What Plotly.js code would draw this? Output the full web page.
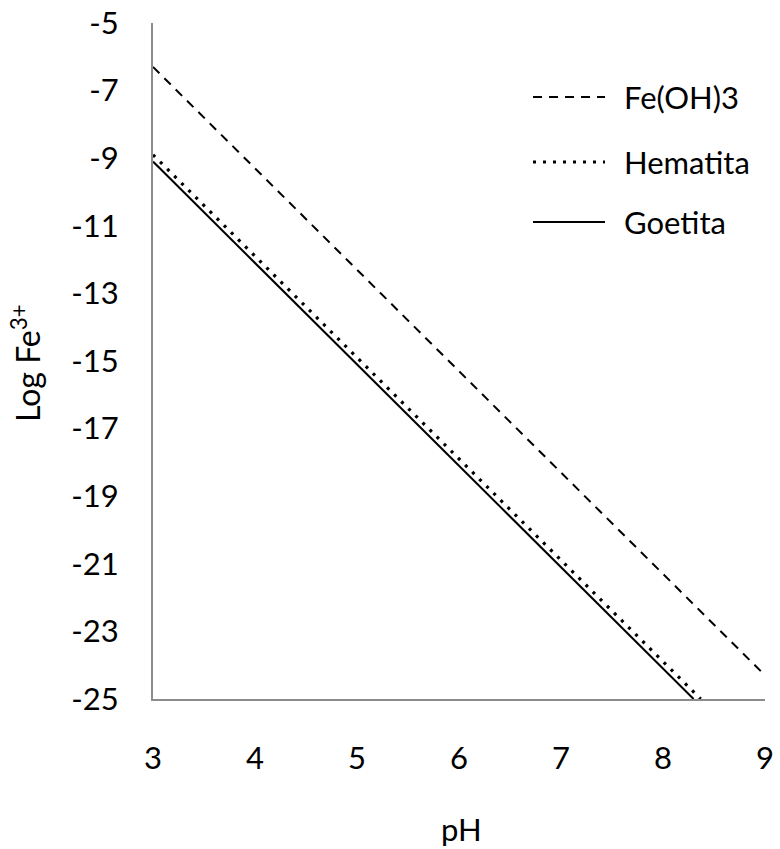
<!DOCTYPE html>
<html>
<head>
<meta charset="utf-8">
<script src="https://cdn.plot.ly/plotly-3.0.1.min.js"></script>
<style>html,body{margin:0;padding:0;background:#fff;}#chart{width:780px;height:849px;}</style>
</head>
<body>
<div id="chart"></div>
<script>
// Data
const seriesNames = ["Fe(OH)3", "Hematita", "Goetita"];
const fe_pH = [3, 9];
const fe_log = [-6.3, -24.3];
const hem_pH = [3, 8.37];
const hem_log = [-8.9, -25];
const goe_pH = [3, 8.3];
const goe_log = [-9.1, -25];
const xTicks = [3, 4, 5, 6, 7, 8, 9];
const yTicks = [-25, -23, -21, -19, -17, -15, -13, -11, -9, -7, -5];
const xTitle = "pH";
const yTitle = "Log Fe<sup>3+</sup>";

const FONT = "Lato, 'Open Sans', sans-serif";
const styles = [
  {color: "#000", width: 2, dash: "9px,7px"},
  {color: "#000", width: 3.2, dash: "3px,7px"},
  {color: "#000", width: 2, dash: "solid"}
];
const xs = [fe_pH, hem_pH, goe_pH];
const ys = [fe_log, hem_log, goe_log];

const traces = seriesNames.map((n, i) => ({
  x: xs[i], y: ys[i], name: n, type: "scatter", mode: "lines",
  line: styles[i], showlegend: false, hoverinfo: "skip"
}));

const L = 153, R = 15, T = 23, B = 150;
const W = 780 - L - R, H = 849 - T - B;
const shapes = [], annotations = [];
// custom legend (sample lines + labels) in paper coordinates
const legY = [97, 162, 222];
legY.forEach((py, i) => {
  const yp = 1 - (py - T) / H;
  shapes.push({type: "line", xref: "paper", yref: "paper",
    x0: (533 - L) / W, x1: (605 - L) / W, y0: yp, y1: yp,
    line: {color: "#000", width: styles[i].width, dash: styles[i].dash}});
  annotations.push({xref: "paper", yref: "paper", x: (622 - L) / W, y: yp,
    xanchor: "left", yanchor: "middle", showarrow: false, text: seriesNames[i],
    font: {family: FONT, size: 31, color: "#000"}});
});
// axis titles
annotations.push({xref: "paper", yref: "paper", x: (461 - L) / W, y: -(829 - (T + H)) / H,
  xanchor: "center", yanchor: "middle", showarrow: false, text: xTitle,
  font: {family: FONT, size: 31, color: "#000"}});
annotations.push({xref: "paper", yref: "paper", x: -(L - 26) / W, y: 1 - (363 - T) / H,
  xanchor: "center", yanchor: "middle", showarrow: false, text: yTitle, textangle: -90,
  font: {family: FONT, size: 32, color: "#000"}});

const layout = {
  width: 780, height: 849,
  margin: {l: L, r: R, t: T, b: B},
  paper_bgcolor: "#fff", plot_bgcolor: "#fff",
  font: {family: FONT, size: 31, color: "#000"},
  showlegend: false,
  xaxis: {
    range: [3, 9], tickvals: xTicks, ticktext: xTicks.map(String),
    showgrid: false, zeroline: false, showline: true, linecolor: "#8c8c8c", linewidth: 2,
    ticks: "outside", ticklen: 31, tickcolor: "rgba(0,0,0,0)",
    tickfont: {family: FONT, size: 31, color: "#000"},
    automargin: false
  },
  yaxis: {
    range: [-25, -5], tickvals: yTicks, ticktext: yTicks.map(String),
    showgrid: false, zeroline: false, showline: true, linecolor: "#8c8c8c", linewidth: 2,
    ticks: "outside", ticklen: 26, tickcolor: "rgba(0,0,0,0)",
    tickfont: {family: FONT, size: 31, color: "#000"},
    automargin: false
  },
  shapes: shapes,
  annotations: annotations
};

Plotly.newPlot("chart", traces, layout, {displayModeBar: false, staticPlot: true});
</script>
</body>
</html>
